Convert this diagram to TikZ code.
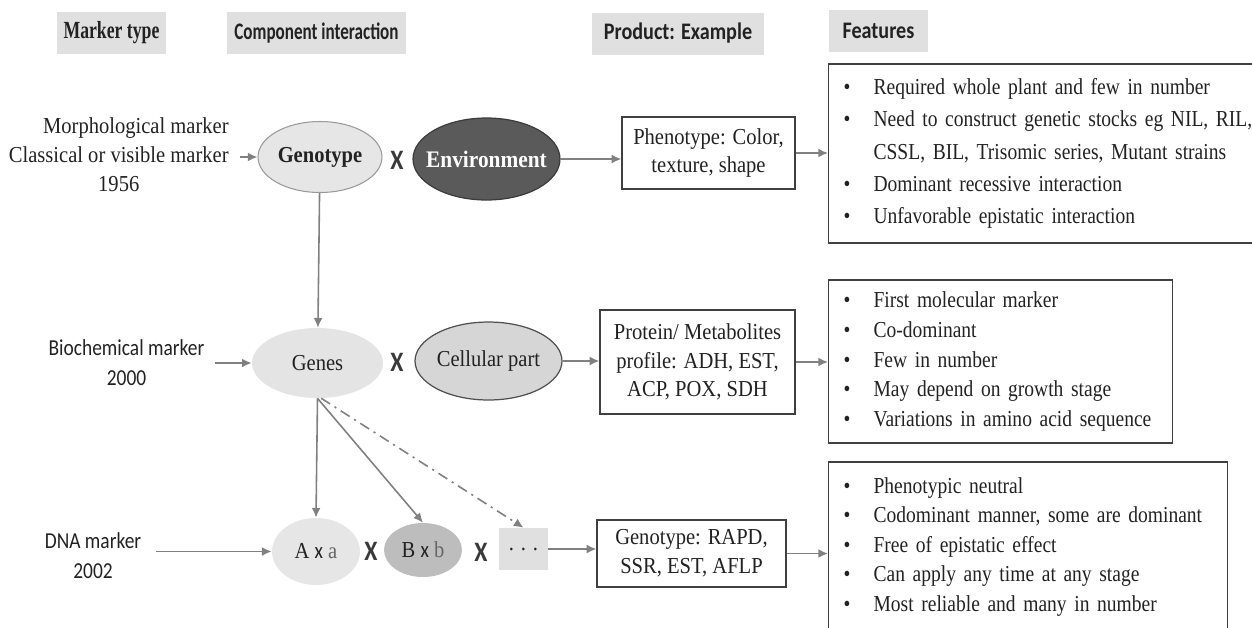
\documentclass[tikz,border=0pt]{standalone}
\usepackage{fontspec}
\setmainfont{Liberation Serif}[FakeStretch=0.9]
\setsansfont{Carlito}[FakeStretch=0.85]
\newfontfamily\condserif{Liberation Serif}[FakeStretch=0.72]
\newfontfamily\condsans{Carlito}[FakeStretch=0.72]
\newfontfamily\featfont{Liberation Serif}[FakeStretch=0.855]
\usetikzlibrary{shapes.geometric,arrows.meta}

\definecolor{ink}{HTML}{222222}
\definecolor{arrowgray}{HTML}{808080}
\definecolor{hdrfill}{HTML}{E0E0E0}
\definecolor{boxline}{HTML}{404040}
\definecolor{crossgray}{HTML}{3A3A3A}
\definecolor{gfill}{HTML}{E6E6E6}
\definecolor{gline}{HTML}{9A9A9A}
\definecolor{envfill}{HTML}{5A5A5A}
\definecolor{envline}{HTML}{3C3C3C}
\definecolor{genfill}{HTML}{E4E4E4}
\definecolor{celfill}{HTML}{D6D6D6}
\definecolor{celline}{HTML}{505050}
\definecolor{bfill}{HTML}{BDBDBD}
\definecolor{softa}{HTML}{666666}

\tikzset{
  hdr/.style={fill=hdrfill, minimum height=0.84cm, inner sep=0pt, text=ink,
    font=\sffamily\bfseries\fontsize{13.5}{15}\selectfont},
  ell/.style={ellipse, inner sep=0pt, text=ink, font=\fontsize{13}{15}\selectfont},
  prod/.style={draw=boxline, line width=0.7pt, fill=white, inner sep=0pt,
    align=center, text=ink, font=\fontsize{13}{16.3}\selectfont},
  feat/.style={draw=boxline, line width=0.7pt, inner xsep=0.3cm, inner ysep=0pt,
    anchor=west, align=left, text=ink},
  cross/.style={text=crossgray, inner sep=0pt, font=\sffamily\bfseries\fontsize{16}{16}\selectfont},
  lbl/.style={text=ink, align=center, inner sep=0pt},
  arr/.style={draw=arrowgray, line width=0.9pt, -{Latex[length=5.5pt,width=5pt]}},
  dashdot/.style={arr, dash pattern=on 6pt off 3pt on 1.2pt off 3pt},
}
\newcommand\fitem[1]{\makebox[0.6cm][l]{\textbullet}\mbox{#1}}
% ellipse labels take no width, so the ellipse keeps its set size
\newcommand\zw[1]{\makebox[0pt]{#1}}

\begin{document}
\begin{tikzpicture}[x=0.02cm, y=-0.02cm]
\useasboundingbox (0,0) rectangle (1252,627);

% column headings
\node[hdr, minimum width=2.18cm, font=\condserif\bfseries\fontsize{14}{16}\selectfont] (h1) at (111.5,33) {Marker type};
\node[hdr, minimum width=3.58cm, font=\condsans\bfseries\fontsize{13.5}{15}\selectfont] (h2) at (316.5,33) {Component interaction};
\node[hdr, minimum width=3.44cm] (h3) at (678,33.5) {Product: Example};
\node[hdr, minimum width=1.98cm] (h4) at (878.5,31) {Features};

% morphological markers
\node[lbl, anchor=east, font=\fontsize{13}{16.5}\selectfont] (morph) at (229,157)
  {\begin{tabular}{@{}c@{}}\multicolumn{1}{@{}r@{}}{Morphological marker}\\ Classical or visible marker\\ 1956\end{tabular}};
\node[ell, draw=gline, line width=0.6pt, fill=gfill, minimum width=2.48cm, minimum height=1.42cm,
  font=\bfseries\fontsize{13}{15}\selectfont] (genotype) at (320,157) {\zw{Genotype}};
\node[cross] (x1) at (397,160) {X};
\node[ell, draw=envline, line width=0.7pt, fill=envfill, text=white, minimum width=2.94cm, minimum height=1.64cm,
  font=\bfseries\fontsize{13.5}{15}\selectfont] (env) at (486.5,159) {\zw{Environment}};
\node[prod, minimum width=3.46cm, minimum height=1.44cm] (pheno) at (708.5,153) {Phenotype: Color,\\ texture, shape};
\node[feat, minimum width=8.52cm, minimum height=3.58cm, text width=7.92cm,
  font=\featfont\fontsize{13}{18.3}\selectfont] (f1) at (828,153.5)
  {\fitem{Required whole plant and few in number}\\
   \fitem{Need to construct genetic stocks eg NIL, RIL,}\\
   \hspace*{0.6cm}\mbox{CSSL, BIL, Trisomic series, Mutant strains}\\
   \fitem{Dominant recessive interaction}\\
   \fitem{Unfavorable epistatic interaction}};

% biochemical markers
\node[lbl, font=\sffamily\fontsize{13}{17}\selectfont] (bio) at (126.5,363) {Biochemical marker\\ 2000};
\node[ell, fill=genfill, minimum width=2.62cm, minimum height=1.40cm] (genes) at (317.5,363) {\zw{Genes}};
\node[cross] (x2) at (397,362) {X};
\node[ell, draw=celline, line width=0.7pt, fill=celfill, minimum width=2.94cm, minimum height=1.56cm] (cell) at (488.5,361) {\zw{Cellular part}};
\node[prod, minimum width=3.9cm, minimum height=2.08cm] (prot) at (697.5,362) {Protein/ Metabolites\\ profile: ADH, EST,\\ ACP, POX, SDH};
\node[feat, minimum width=6.88cm, minimum height=3.26cm, text width=6.28cm,
  font=\featfont\fontsize{13}{17}\selectfont] (f2) at (828,361.5)
  {\fitem{First molecular marker}\\
   \fitem{Co-dominant}\\
   \fitem{Few in number}\\
   \fitem{May depend on growth stage}\\
   \fitem{Variations in amino acid sequence}};

% DNA markers
\node[lbl, font=\sffamily\fontsize{13}{17}\selectfont] (dna) at (93,556) {DNA marker\\ 2002};
\node[ell, fill=gfill, minimum width=1.76cm, minimum height=1.34cm] (axa) at (316,551.5) {\zw{A {\sffamily x} {\color{softa}a}}};
\node[cross] (x3) at (371,551) {X};
\node[ell, fill=bfill, minimum width=1.56cm, minimum height=1.08cm] (bxb) at (423,550) {\zw{B {\sffamily x} {\color{softa}b}}};
\node[cross] (x4) at (481,552) {X};
\node[fill=hdrfill, minimum width=0.98cm, minimum height=0.84cm, inner sep=0pt, text=ink,
  font=\fontsize{13}{15}\selectfont] (dots) at (523.5,549) {. . .};
\node[prod, minimum width=3.78cm, minimum height=1.34cm] (gbox) at (691.5,553.5) {Genotype: RAPD,\\ SSR, EST, AFLP};
\node[feat, minimum width=7.98cm, minimum height=3.40cm, text width=7.38cm,
  font=\featfont\fontsize{13}{16.8}\selectfont] (f3) at (828,547)
  {\fitem{Phenotypic neutral}\\
   \fitem{Codominant manner, some are dominant}\\
   \fitem{Free of epistatic effect}\\
   \fitem{Can apply any time at any stage}\\
   \fitem{Most reliable and many in number}};

% connectors
\draw[arr, shorten <=0.22cm] (genotype.west -| morph.east) -- (genotype.west);
\draw[arr] (env.east) -- (env.east -| pheno.west);
\draw[arr] (pheno.east) -- (pheno.east -| f1.west);
\draw[arr] (genotype) -- (genes);

\draw[arr, shorten <=0.2cm] (genes.west -| bio.east) -- (genes.west);
\draw[arr] (cell.east) -- (cell.east -| prot.west);
\draw[arr] (prot.east) -- (prot.east -| f2.west);

\draw[arr] (genes.south) -- (axa.north);
\draw[arr] (genes.south) -- (bxb.north);
\draw[dashdot] (genes.-84) -- (dots.north);

\draw[arr, shorten <=0.28cm] (axa.west -| dna.east) -- (axa.west);
\draw[arr] (dots.east) -- (dots.east -| gbox.west);
\draw[arr] (gbox.east) -- (gbox.east -| f3.west);
\end{tikzpicture}
\end{document}
